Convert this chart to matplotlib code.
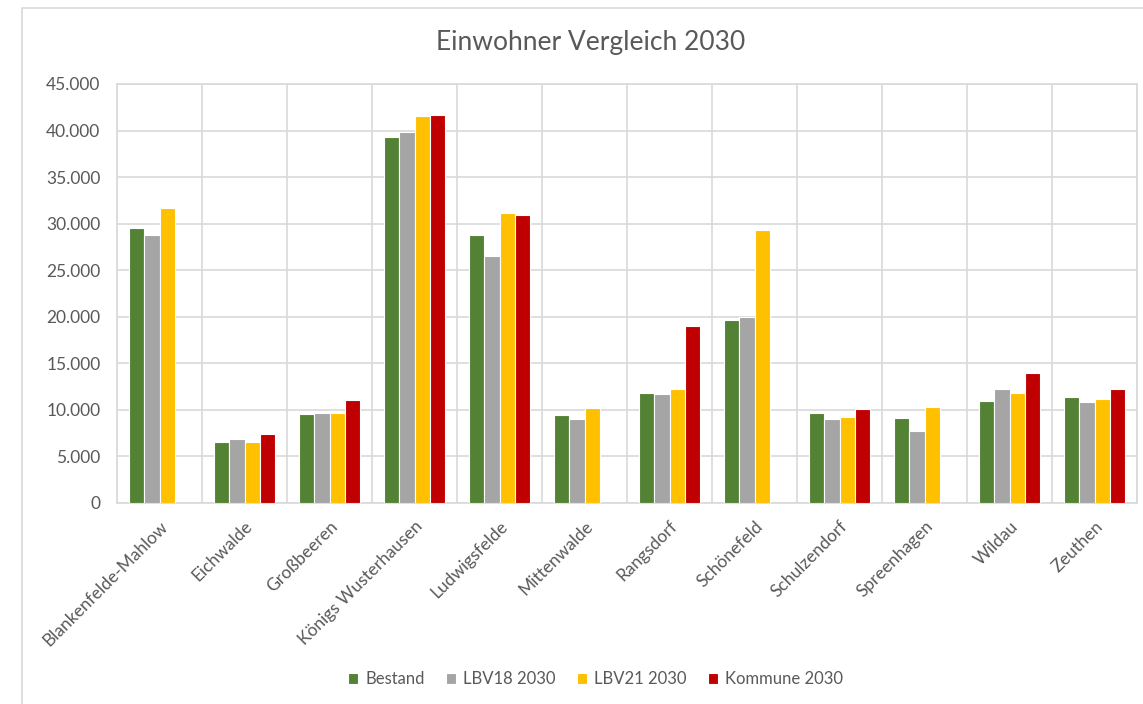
import numpy as np
import matplotlib.pyplot as plt
from matplotlib.patches import Rectangle
from matplotlib.ticker import FuncFormatter, MultipleLocator

plt.rcParams['font.family'] = ['Lato', 'DejaVu Sans']

# Gemeinden und Einwohnerzahlen
gemeinden = ['Blankenfelde-Mahlow', 'Eichwalde', 'Großbeeren', 'Königs Wusterhausen',
             'Ludwigsfelde', 'Mittenwalde', 'Rangsdorf', 'Schönefeld', 'Schulzendorf',
             'Spreenhagen', 'Wildau', 'Zeuthen']
bestand = [29570, 6490, 9500, 39320, 28750, 9460, 11830, 19640, 9610, 9070, 10900, 11400]
lbv18 = [28750, 6810, 9610, 39860, 26490, 9030, 11720, 19960, 8960, 7710, 12190, 10790]
lbv21 = [31720, 6490, 9610, 41540, 31080, 10220, 12220, 29350, 9180, 10320, 11830, 11180]
kommune = [np.nan, 7350, 11000, 41680, 30970, np.nan, 19000, np.nan, 10040, np.nan, 13980, 12260]

serien = ['Bestand', 'LBV18 2030', 'LBV21 2030', 'Kommune 2030']
farben = ['#548235', '#a5a5a5', '#ffc000', '#c00000']
grid_col = '#d9d9d9'
text_col = '#595959'

fig = plt.figure(figsize=(11.43, 7.04), dpi=100)
ax = fig.add_axes([0.1024, 0.286, 0.8924, 0.5947])

# Rahmen um das Diagramm
fig.patches.append(Rectangle((0.019, -0.1), 1.2, 1.089, transform=fig.transFigure,
                             fill=False, edgecolor=grid_col, linewidth=1.2))

x = np.arange(len(gemeinden))
w = 0.178
for i, (werte, name, farbe) in enumerate(zip([bestand, lbv18, lbv21, kommune], serien, farben)):
    ax.bar(x + (i - 1.5) * w, werte, width=w, color=farbe, edgecolor='white',
           linewidth=0.8, label=name, zorder=3)

ax.set_xlim(-0.5, len(gemeinden) - 0.5)
ax.set_ylim(0, 45000)
ax.yaxis.set_major_locator(MultipleLocator(5000))
ax.yaxis.set_major_formatter(FuncFormatter(lambda v, p: f'{int(v):,}'.replace(',', '.')))

# horizontale und vertikale Gitternetzlinien
ax.grid(axis='y', color=grid_col, linewidth=1.2, zorder=0)
ax.set_xticks(np.arange(-0.5, len(gemeinden)), minor=True)
ax.grid(axis='x', which='minor', color=grid_col, linewidth=1.2, zorder=0)

ax.set_xticks(x)
ax.set_xticklabels(gemeinden, rotation=45, ha='right', rotation_mode='anchor')
ax.tick_params(axis='both', which='both', length=0, labelcolor=text_col)
ax.tick_params(axis='y', pad=12, labelsize=12.5)
ax.tick_params(axis='x', pad=11, labelsize=12.5)
for s in ax.spines.values():
    s.set_color(grid_col)
    s.set_linewidth(1.2)

fig.text(0.517, 0.94, 'Einwohner Vergleich 2030', ha='center', va='center',
         fontsize=19, color=text_col)

fig.legend(loc='center', bbox_to_anchor=(0.521, 0.035), ncol=4, frameon=False,
           fontsize=12, labelcolor=text_col, handlelength=0.6, handleheight=0.6,
           handletextpad=0.4, columnspacing=1.3)

fig.savefig('out.png', dpi=100)
